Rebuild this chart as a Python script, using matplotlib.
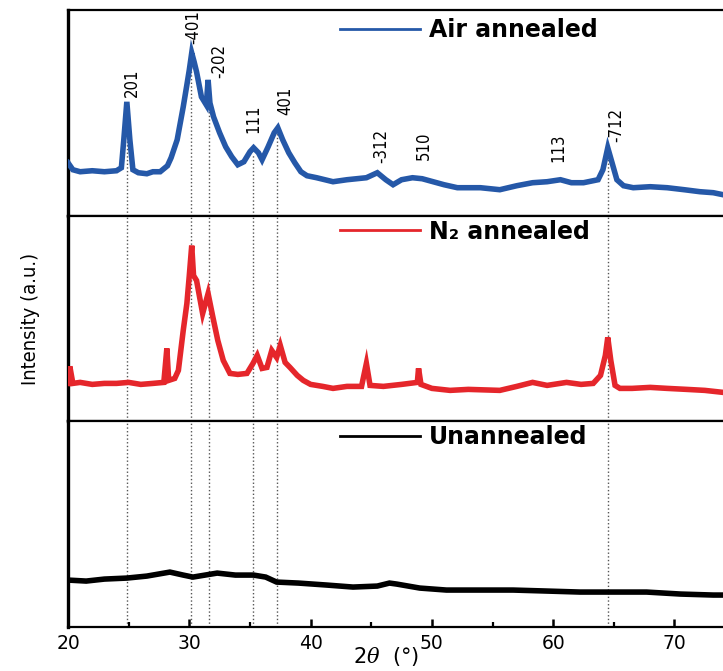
import numpy as np
import matplotlib
matplotlib.use("Agg")
import matplotlib.pyplot as plt
from matplotlib.ticker import MultipleLocator

plt.rcParams['mathtext.fontset'] = 'custom'
plt.rcParams['mathtext.rm'] = 'DejaVu Sans'
plt.rcParams['mathtext.it'] = 'DejaVu Serif:italic'
plt.rcParams['mathtext.bf'] = 'DejaVu Sans:bold'

# ------ XRD traces (2theta in degrees, intensity in a.u.) ------#

air_2theta = [20.0, 20.4, 21.0, 22.0, 23.0, 24.0, 24.4, 24.6, 24.85, 25.1, 25.35, 25.8,
              26.5, 27.0, 27.6, 28.2, 28.5, 29.0, 29.5, 29.8, 30.0, 30.2, 30.4, 30.6,
              31.0, 31.4, 31.55, 31.7, 32.0, 32.5, 33.0, 33.5, 34.0, 34.5, 35.0, 35.3,
              35.7, 36.0, 36.5, 37.0, 37.3, 37.7, 38.2, 38.7, 39.2, 39.7, 40.5, 41.85,
              43.0, 44.6, 45.5, 46.2, 46.8, 47.5, 48.4, 49.2, 50.1, 51.0, 52.1, 54.0,
              55.6, 57.0, 58.3, 59.5, 60.6, 61.5, 62.5, 63.7, 64.1, 64.5, 64.9, 65.25,
              65.8, 66.6, 68.0, 69.4, 70.8, 72.1, 73.2, 74.0]
air_int = [53, 46, 44, 45, 44, 45, 48, 76, 114, 76, 46, 43,
           42, 44, 44, 50, 58, 76, 109, 131, 146, 163, 154, 144,
           119, 111, 136, 113, 99, 83, 69, 59, 51, 54, 64, 68,
           63, 56, 69, 83, 88, 76, 63, 53, 44, 40, 38, 34,
           36, 38, 43, 36, 31, 36, 38, 37, 34, 31, 28, 28,
           26, 30, 33, 34, 36, 33, 33, 36, 46, 68, 51, 36,
           30, 28, 29, 28, 26, 24, 23, 21]

n2_2theta = [20.0, 20.15, 20.4, 21.0, 22.0, 23.0, 24.0, 25.0, 26.0, 27.0, 27.9, 28.15,
             28.3, 28.8, 29.1, 29.5, 29.8, 30.0, 30.2, 30.35, 30.6, 31.1, 31.55, 31.95,
             32.35, 32.8, 33.35, 34.0, 34.75, 35.25, 35.6, 36.0, 36.4, 36.8, 37.2, 37.5,
             37.9, 38.3, 38.9, 39.4, 40.0, 41.0, 41.85, 43.0, 44.2, 44.6, 44.9, 46.0,
             47.5, 48.8, 48.9, 49.1, 50.0, 51.5, 53.0, 55.6, 57.0, 58.3, 59.5, 61.1,
             62.3, 63.3, 63.9, 64.3, 64.5, 64.75, 65.1, 65.5, 66.5, 68.0, 69.4, 71.0,
             72.5, 74.0]
n2_int = [38, 55, 38, 39, 37, 38, 38, 39, 37, 38, 39, 73,
          41, 43, 51, 91, 118, 146, 176, 146, 141, 108, 128, 104,
          81, 61, 48, 47, 48, 58, 66, 53, 54, 71, 64, 76,
          59, 54, 46, 41, 37, 35, 33, 35, 35, 58, 36, 35,
          37, 39, 53, 37, 33, 31, 32, 31, 35, 39, 36, 39,
          37, 38, 46, 66, 84, 61, 36, 33, 33, 34, 33, 32,
          31, 29]

raw_2theta = [20.0, 21.5, 23.0, 24.85, 26.5, 28.4, 29.5, 30.3, 31.3, 32.3, 33.8, 35.3,
              36.3, 37.2, 39.0, 41.35, 43.5, 45.5, 46.5, 47.1, 49.0, 51.2, 54.0, 56.7,
              59.5, 62.2, 65.0, 67.7, 70.5, 73.2, 74.0]
raw_int = [47, 46, 48, 49, 51, 55, 52, 50, 52, 54, 52, 52,
           50, 45, 44, 42, 40, 41, 44, 43, 39, 37, 37, 37,
           36, 35, 35, 35, 33, 32, 32]

# reflections marked with dotted guides, and where the guide starts in the top panel
peak_pos = [24.85, 30.15, 31.6, 35.25, 37.2, 64.5]
peak_top = [112, 160, 112, 62, 84, 66]

# (hkl) annotations
hkl = ['201', '-401', '-202', '111', '401', '-312', '510', '113', '-712']
hkl_x = [25.25, 30.3, 32.45, 35.3, 37.95, 45.8, 49.3, 60.4, 65.2]
hkl_y = [119, 172, 138, 83, 101, 53, 56, 54, 74]

#--------------------------------------------------------------#

W, H = 723, 671
fig = plt.figure(figsize=(W / 100, H / 100), dpi=100)

left = 68 / W
top_px, bot_px = 10, 627
panel_h = (bot_px - top_px) / 3 / H
narrow = dict(family='DejaVu Sans', stretch='condensed')

series = [
    (air_2theta, air_int, '#2558a8', 'Air annealed', 0.903),
    (n2_2theta, n2_int, '#e5262b', 'N\u2082 annealed', 0.922),
    (raw_2theta, raw_int, 'black', 'Unannealed', 0.922),
]

axes = []
for i, (x, y, c, lab, leg_y) in enumerate(series):
    bottom = 1 - top_px / H - (i + 1) * panel_h
    ax = fig.add_axes([left, bottom, 1 - left, panel_h])
    ax.set_xlim(20, 74)
    ax.set_ylim(0, 206)
    ax.plot(x, y, color=c, lw=4.0, solid_joinstyle='miter', label=lab, zorder=3)

    if i == 0:
        ax.vlines(peak_pos, 0, peak_top, colors='#555555', linestyles=':', lw=1.0, zorder=1)
        for t, px, py in zip(hkl, hkl_x, hkl_y):
            ax.text(px, py, t, rotation=90, ha='center', va='bottom', fontsize=12, **narrow)
    else:
        for p in peak_pos:
            ax.axvline(p, color='#555555', ls=':', lw=1.0, zorder=1)

    leg = ax.legend(loc='center left', bbox_to_anchor=((340 - 68) / (W - 68), leg_y),
                    frameon=False, borderpad=0, borderaxespad=0, handlelength=3.4,
                    handletextpad=0.35, prop={'weight': 'bold', 'size': 17})
    for h in leg.legend_handles:
        h.set_linewidth(2)

    ax.spines['right'].set_visible(False)
    ax.spines['left'].set_linewidth(2.4)
    ax.spines['top'].set_linewidth(1.6)
    ax.spines['bottom'].set_linewidth(1.6)
    ax.set_yticks([])
    ax.xaxis.set_major_locator(MultipleLocator(10))
    ax.xaxis.set_minor_locator(MultipleLocator(5))
    if i < 2:
        ax.tick_params(axis='x', which='both', bottom=False, labelbottom=False)
    else:
        ax.tick_params(axis='x', which='major', direction='in', length=6, width=1.8,
                       labelsize=13.5, pad=5)
        ax.tick_params(axis='x', which='minor', direction='in', length=3.5, width=1.6)
    axes.append(ax)

fig.text(386 / W, 1 - 657 / H, r'$\mathit{2\theta}$  (°)', ha='center', va='center', fontsize=15)
fig.text(31 / W, 1 - 319 / H, 'Intensity (a.u.)', rotation=90, ha='center', va='center',
         fontsize=14.5, **narrow)

fig.savefig('out.png', dpi=100)
